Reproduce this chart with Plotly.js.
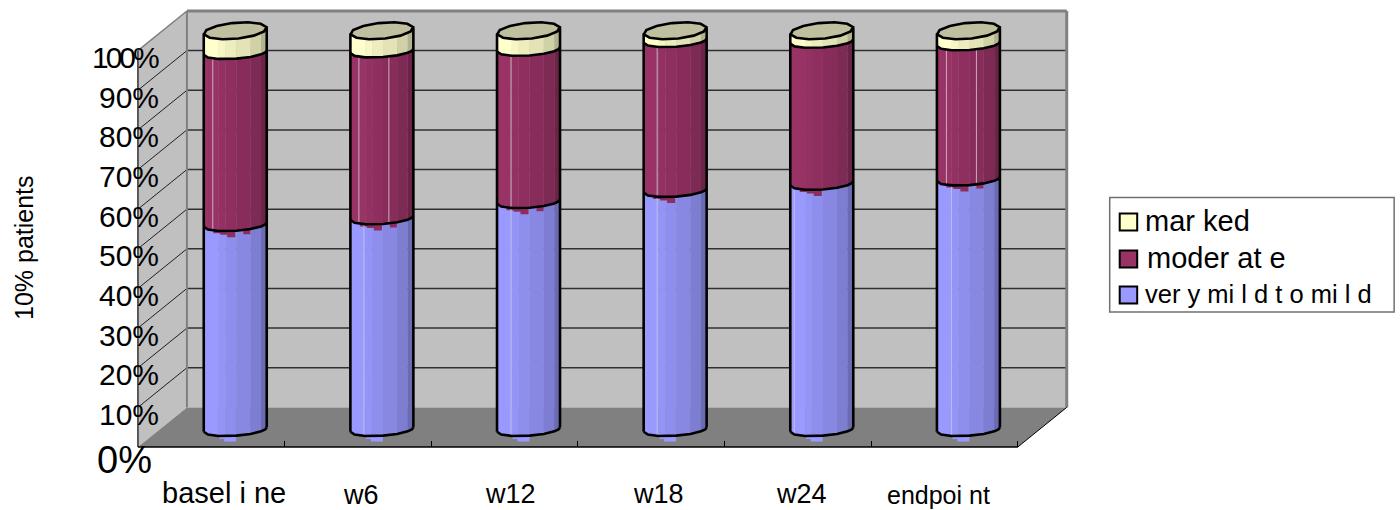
<!DOCTYPE html>
<html>
<head>
<meta charset="utf-8">
<script src="https://cdn.plot.ly/plotly-3.0.1.min.js"></script>
<style>html,body{margin:0;padding:0;background:#fff}</style>
</head>
<body>
<div id="chart"></div>
<script>
// Share of patients per severity class at each visit (percent).
const categories = ['basel i ne', 'w6', 'w12', 'w18', 'w24', 'endpoi nt'];
const veryMildToMild = [51.1, 52.8, 56.9, 59.7, 61.5, 62.6];
const moderate = [43.4, 42.1, 38.4, 37.8, 35.8, 34.1];
const marked = [5.5, 5.1, 4.7, 2.5, 2.7, 3.3];
const seriesNames = ['ver y mi l d t o mi l d', 'moder at e', 'mar ked'];
const seriesColors = [[153, 153, 255], [153, 51, 102], [255, 255, 204]];
const yTickValues = [0, 10, 20, 30, 40, 50, 60, 70, 80, 90, 100];
const yTickLabels = ['0%', '10%', '20%', '30%', '40%', '50%', '60%', '70%', '80%', '90%', '100%'];
const yTitle = '10% patients';

// Plot frame: one category is 146.67 px wide, one percent is 3.964 px tall.
const W = 1400, H = 510, PX = 146.67, PY = 3.964;
const FRONT_X = 138, FRONT_Y = 447;
const xRange = [-0.02, 6.37], yRange = [-1, 111];
const margin = {
  l: FRONT_X + xRange[0] * PX,
  t: FRONT_Y - yRange[1] * PY,
  b: H - (FRONT_Y - yRange[0] * PY),
  pad: 0
};
margin.r = W - (margin.l + (xRange[1] - xRange[0]) * PX);
const plotW = W - margin.l - margin.r, plotH = H - margin.t - margin.b;
const paperX = px => (px - margin.l) / plotW;
const paperY = py => (H - margin.b - py) / plotH;

// The walls sit one depth step behind the front plane.
const DX = 49 / PX, DY = 10;

// Cylinder cross-section, in pixels, converted to axis units when used.
const E = 31.5, TILT = Math.atan2(10.3, 29.8);
const D_TOP = 8.5, D_SEAM = 6.5;
const centerX = i => i + 0.5 + 24 / PX;
const centerY = v => v + DY / 2;
const arcPoint = (i, v, phi, d) => ({
  x: centerX(i) - (E / PX) * Math.cos(phi),
  y: centerY(v) - (d / PY) * Math.sin(TILT + phi)
});
const deg = a => a * Math.PI / 180;
const stripEdges = [[0, 30, 58], [58, 72], [72, 92], [92, 119], [119, 145], [145, 162, 180]];
const stripShade = [1, 0.97, 0.93, 0.89, 0.82, 0.7];
const arcAngles = [0, 30, 58, 72, 92, 119, 145, 162, 180];

function shade(rgb, f) {
  return 'rgb(' + rgb.map(c => Math.round(c * f)).join(',') + ')';
}

const cumulative = categories.map((_, i) => [
  -0.6,
  veryMildToMild[i],
  veryMildToMild[i] + moderate[i],
  veryMildToMild[i] + moderate[i] + marked[i]
]);

const traces = [];
const skip = {mode: 'lines', hoverinfo: 'skip', showlegend: false};

// Small stepped tab of colour showing under each cylinder foot.
(function feet() {
  const xs = [], ys = [];
  categories.forEach((_, i) => {
    const cx = centerX(i), cy = centerY(cumulative[i][0]);
    [[-16, 6], [-16, 9.5], [-11, 9.5], [-11, 12], [1, 12], [1, 6]].forEach(p => {
      xs.push(cx + p[0] / PX); ys.push(cy - p[1] / PY);
    });
    xs.push(null); ys.push(null);
  });
  traces.push({...skip, x: xs, y: ys, fill: 'toself', fillcolor: shade(seriesColors[0], 1), line: {width: 0}});
})();

// Shaded vertical strips that give each stacked segment its round look.
seriesNames.forEach((name, s) => {
  stripEdges.forEach((edges, k) => {
    const xs = [], ys = [];
    categories.forEach((_, i) => {
      const lo = cumulative[i][s], hi = cumulative[i][s + 1];
      edges.forEach(a => { const p = arcPoint(i, lo, deg(a), D_SEAM); xs.push(p.x); ys.push(p.y); });
      edges.slice().reverse().forEach(a => { const p = arcPoint(i, hi, deg(a), D_SEAM); xs.push(p.x); ys.push(p.y); });
      xs.push(null); ys.push(null);
    });
    const col = shade(seriesColors[s], stripShade[k]);
    traces.push({...skip, name: name, x: xs, y: ys, fill: 'toself', fillcolor: col, line: {width: 0.6, color: col}});
  });
});

// Stepped slivers of the upper colour bleeding past each seam.
(function slivers() {
  const xs = [], ys = [];
  const hasSecond = [1, 1, 1, 0, 0, 1];
  categories.forEach((_, i) => {
    const cx = centerX(i), cy = centerY(cumulative[i][1]);
    [[-22, 4], [-22, 8.5], [-15, 8.5], [-15, 10], [-8, 10], [-8, 12.5], [0, 12.5], [0, 4]].forEach(p => {
      xs.push(cx + p[0] / PX); ys.push(cy - p[1] / PY);
    });
    xs.push(null); ys.push(null);
    if (hasSecond[i]) {
      [[8, 3], [8, 9.5], [15, 9.5], [15, 3]].forEach(p => {
        xs.push(cx + p[0] / PX); ys.push(cy - p[1] / PY);
      });
      xs.push(null); ys.push(null);
    }
  });
  traces.push({...skip, x: xs, y: ys, fill: 'toself', fillcolor: 'rgb(142,46,96)', line: {width: 0}});
})();

// Thin pale seams between facets: [bar, segment, offset from bar centre].
const facetSeams = [
  [0, 1, -22.5], [1, 1, -23], [1, 1, 7], [1, 0, -18], [2, 1, -17.5], [2, 0, -17.5],
  [3, 1, -18], [3, 0, -18], [4, 0, -27.5], [5, 1, -22], [5, 1, 8], [5, 0, -17]
];
[0, 1].forEach(s => {
  const xs = [], ys = [];
  facetSeams.filter(f => f[1] === s).forEach(f => {
    const phi = Math.acos(-f[2] / E);
    const a = arcPoint(f[0], cumulative[f[0]][s], phi, D_SEAM);
    const b = arcPoint(f[0], cumulative[f[0]][s + 1], phi, D_SEAM);
    xs.push(a.x, b.x, null); ys.push(a.y, b.y, null);
  });
  traces.push({...skip, x: xs, y: ys, line: {width: 1, color: s ? 'rgb(200,176,190)' : 'rgb(190,190,228)'}});
});

// Top caps, faceted like the seams below them.
(function caps() {
  const xs = [], ys = [];
  categories.forEach((_, i) => {
    const top = cumulative[i][3];
    for (let a = 0; a <= 360; a += 30) {
      const p = arcPoint(i, top, deg(a + 6), D_TOP);
      xs.push(p.x); ys.push(p.y);
    }
    xs.push(null); ys.push(null);
  });
  traces.push({...skip, x: xs, y: ys, fill: 'toself', fillcolor: 'rgb(192,192,160)', line: {width: 2.6, color: '#000'}});
})();

// Black outlines: the sides and every seam.
(function outlines() {
  const xs = [], ys = [];
  categories.forEach((_, i) => {
    cumulative[i].slice(0, 3).forEach(v => {
      arcAngles.forEach(a => { const p = arcPoint(i, v, deg(a), D_SEAM); xs.push(p.x); ys.push(p.y); });
      xs.push(null); ys.push(null);
    });
    const lo = cumulative[i][0], hi = cumulative[i][3];
    [0, 180].forEach(a => {
      const p = arcPoint(i, lo, deg(a), D_SEAM), q = arcPoint(i, hi, deg(a), D_TOP);
      xs.push(p.x, q.x, null); ys.push(p.y, q.y, null);
    });
  });
  traces.push({...skip, x: xs, y: ys, line: {width: 2.6, color: '#000'}});
})();

// Walls, floor and the gridlines that run along them.
const inData = {xref: 'x', yref: 'y'};
const polygon = pts => 'M' + pts.map(p => p[0] + ',' + p[1]).join('L') + 'Z';
const shapes = [
  {...inData, type: 'path', layer: 'below', path: polygon([[DX, DY], [6 + DX, DY], [6 + DX, 100 + DY], [DX, 100 + DY]]),
    fillcolor: '#C0C0C0', line: {width: 0}},
  {...inData, type: 'path', layer: 'below', path: polygon([[0, 0], [DX, DY], [DX, 100 + DY], [0, 100]]),
    fillcolor: '#C0C0C0', line: {width: 0}},
  {...inData, type: 'path', layer: 'below', path: polygon([[0, 0], [6, 0], [6 + DX, DY], [DX, DY]]),
    fillcolor: '#808080', line: {width: 0}}
];
yTickValues.slice(1, -1).forEach(v => {
  shapes.push({...inData, type: 'line', layer: 'below', x0: DX, x1: 6 + DX, y0: v + DY, y1: v + DY,
    line: {color: '#303030', width: 1.5}});
  shapes.push({...inData, type: 'line', layer: 'below', x0: 0, x1: DX, y0: v, y1: v + DY,
    line: {color: '#202020', width: 1}});
});
[
  [DX, DY, DX, 100 + DY, '#808080', 2],
  [DX, 100 + DY, 6 + DX, 100 + DY, '#808080', 3],
  [6 + DX, DY, 6 + DX, 100 + DY, '#808080', 3],
  [0, 100, DX, 100 + DY, '#808080', 1.5],
  [0, 0, 0, 100, '#303030', 1.5],
  [0, 0, 6, 0, '#000', 1.5],
  [6, 0, 6 + DX, DY, '#000', 1]
].forEach(e => {
  shapes.push({...inData, type: 'line', layer: 'below', x0: e[0], y0: e[1], x1: e[2], y1: e[3],
    line: {color: e[4], width: e[5]}});
});

const font = (size) => ({family: '"Liberation Sans", Arial, sans-serif', size: size, color: '#000'});
const annotations = [];

// Value labels sit just below the tick they name, over the side wall.
yTickLabels.forEach((label, k) => {
  const isZero = yTickValues[k] === 0;
  annotations.push({
    xref: 'x', yref: 'y', x: 0, y: yTickValues[k], showarrow: false,
    xanchor: 'right', yanchor: 'middle',
    xshift: isZero ? 16 : 23, yshift: isZero ? -13 : -7,
    font: font(isZero ? 38 : 30),
    text: yTickValues[k] === 100 ? '<span style="letter-spacing:-3px">' + label + '</span>' : label
  });
});

// Category labels; each one was set at its own size and height.
const catSize = [29, 27, 27, 27, 27, 25];
const catShiftX = [13, 3, 6, 7, 4, -6];
const catShiftY = [-46, -48, -47, -47, -47, -48];
categories.forEach((label, i) => {
  annotations.push({
    xref: 'x', yref: 'y', x: i + 0.5, y: 0, showarrow: false,
    xanchor: 'center', yanchor: 'middle', xshift: catShiftX[i], yshift: catShiftY[i],
    font: font(catSize[i]), text: label
  });
});

annotations.push({
  xref: 'paper', yref: 'paper', x: paperX(24), y: paperY(247), showarrow: false,
  xanchor: 'center', yanchor: 'middle', textangle: -90, font: font(25), text: yTitle
});

// Legend box, marked first.
shapes.push({type: 'rect', xref: 'paper', yref: 'paper',
  x0: paperX(1110), x1: paperX(1394.5), y0: paperY(197.5), y1: paperY(312),
  fillcolor: '#fff', line: {color: '#707070', width: 1.5}});
const legendRows = [
  {s: 2, mid: 222, textMid: 220.5, size: 29, textX: 1143},
  {s: 1, mid: 259, textMid: 258, size: 29, textX: 1145},
  {s: 0, mid: 295, textMid: 293.5, size: 25.5, textX: 1143}
];
legendRows.forEach(r => {
  shapes.push({type: 'rect', xref: 'paper', yref: 'paper',
    x0: paperX(1120), x1: paperX(1137.5), y0: paperY(r.mid - 8.5), y1: paperY(r.mid + 8.5),
    fillcolor: shade(seriesColors[r.s], 1), line: {color: '#000', width: 2}});
  annotations.push({xref: 'paper', yref: 'paper', x: paperX(r.textX), y: paperY(r.textMid),
    showarrow: false, xanchor: 'left', yanchor: 'middle', font: font(r.size), text: seriesNames[r.s]});
});

const layout = {
  width: W, height: H, autosize: false, margin: margin,
  paper_bgcolor: '#fff', plot_bgcolor: 'rgba(0,0,0,0)', showlegend: false,
  xaxis: {
    range: xRange, showgrid: false, zeroline: false, showline: false, showticklabels: false,
    tickmode: 'array', tickvals: [1, 2, 3, 4, 5, 6], ticks: 'inside', ticklen: 6, tickwidth: 1, tickcolor: '#000',
    anchor: 'free', position: (0 - yRange[0]) / (yRange[1] - yRange[0])
  },
  yaxis: {range: yRange, showgrid: false, zeroline: false, showline: false, showticklabels: false, ticks: ''},
  shapes: shapes, annotations: annotations
};

Plotly.newPlot('chart', traces, layout, {displayModeBar: false, staticPlot: true});
</script>
</body>
</html>
